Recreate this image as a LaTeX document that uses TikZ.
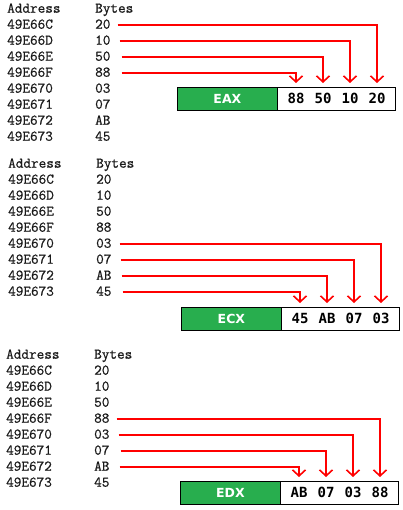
\documentclass[tikz,border=0pt]{standalone}
\usepackage{fontspec}
\newfontfamily\memfont[FakeBold=0.8]{Latin Modern Mono}
\newfontfamily\valfont{DejaVu Sans Mono}
\newfontfamily\regfont{DejaVu Sans}
\usetikzlibrary{arrows.meta}
\definecolor{boxgreen}{HTML}{28AE4E}
\definecolor{arrowred}{HTML}{FF0000}
\definecolor{memtext}{HTML}{1A1A1A}
\tikzset{
  mem/.style={anchor=west, inner sep=0pt, text height=7.4pt, text depth=0pt,
    font=\memfont\fontsize{14.8}{14.8}\selectfont, text=memtext},
  regname/.style={draw=black, fill=boxgreen, minimum width=100pt, minimum height=23pt,
    anchor=north west, inner sep=0pt, line width=0.8pt, text=white,
    font=\regfont\bfseries\fontsize{12.5}{12.5}\selectfont},
  regval/.style={draw=black, fill=white, minimum width=118pt, minimum height=23pt,
    anchor=north west, inner sep=0pt, line width=0.8pt},
  val/.style={inner sep=0pt, font=\valfont\bfseries\fontsize{14}{14}\selectfont},
  link/.style={draw=arrowred, line width=1.6pt, shorten >=4pt,
    -{Straight Barb[length=6pt,width=13pt]}},
}
\newcommand\mempanel[4]{%
  \node[mem] (#1h) at (#3,#2) {Address};
  \node[mem] (#1hb) at (#4,#2) {Bytes};
  \foreach \ad/\by [count=\i from 0] in {49E66C/20,49E66D/10,49E66E/50,49E66F/88,49E670/03,49E671/07,49E672/AB,49E673/45} {
    \node[mem] (#1a\i) at (#3,#2+16+16*\i) {\ad};
    \node[mem] (#1b\i) at (#4,#2+16+16*\i) {\by};
  }%
}
\newcommand\regbox[8]{%
  \node[regname] (#1n) at (#2,#3) {#4};
  \node[regval] (#1r) at (#2+100,#3) {};
  \node[val] (#1v1) at (#2+119,#3+11.5) {#5};
  \node[val] (#1v2) at (#2+146,#3+11.5) {#6};
  \node[val] (#1v3) at (#2+173,#3+11.5) {#7};
  \node[val] (#1v4) at (#2+200,#3+11.5) {#8};
}
\begin{document}
\begin{tikzpicture}[x=1pt,y=-1pt]
\useasboundingbox (0,0) rectangle (403,510);
% panel 1
\mempanel{p}{9}{7}{95}
\regbox{pr}{177}{87}{EAX}{88}{50}{10}{20}
\draw[link] ([xshift=7pt]pb0.east) -| (prv4 |- prr.north);
\draw[link] ([xshift=9pt]pb1.east) -| (prv3 |- prr.north);
\draw[link] ([xshift=11pt]pb2.east) -| (prv2 |- prr.north);
\draw[link] ([xshift=11pt]pb3.east) -| (prv1 |- prr.north);
% panel 2
\mempanel{q}{164}{8}{96}
\regbox{qr}{181}{307}{ECX}{45}{AB}{07}{03}
\draw[link] ([xshift=8pt]qb4.east) -| (qrv4 |- qrr.north);
\draw[link] ([xshift=9pt]qb5.east) -| (qrv3 |- qrr.north);
\draw[link] ([xshift=10pt]qb6.east) -| (qrv2 |- qrr.north);
\draw[link] ([xshift=11pt]qb7.east) -| (qrv1 |- qrr.north);
% panel 3
\mempanel{s}{355}{6}{94}
\regbox{sr}{180}{481}{EDX}{AB}{07}{03}{88}
\draw[link] ([xshift=7pt]sb3.east) -| (srv4 |- srr.north);
\draw[link] ([xshift=9pt]sb4.east) -| (srv3 |- srr.north);
\draw[link] ([xshift=11pt]sb5.east) -| (srv2 |- srr.north);
\draw[link] ([xshift=10pt]sb6.east) -| (srv1 |- srr.north);
\end{tikzpicture}
\end{document}
